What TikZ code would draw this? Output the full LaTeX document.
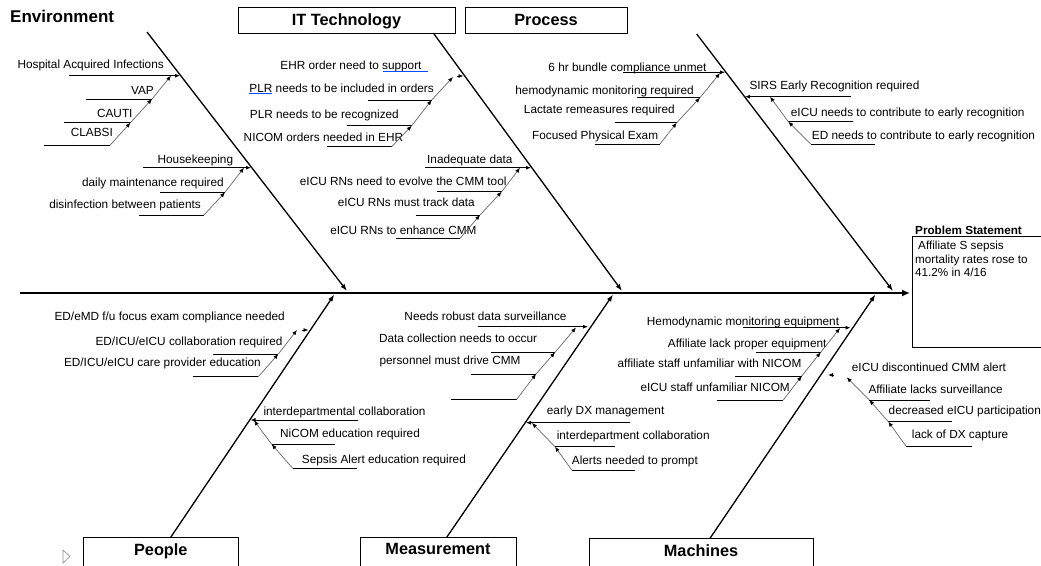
\documentclass[tikz,border=0pt]{standalone}
\usepackage{fontspec}
\setmainfont{Liberation Sans}
\usetikzlibrary{arrows.meta,calc}
\tikzset{
    cause/.style={
        font=\fontsize{11.8}{13}\selectfont,
        inner sep=0pt,
    },
    head/.style={
        font=\bfseries\fontsize{16.3}{18}\selectfont,
        inner sep=0pt,
    },
    catbox/.style={
        rectangle,
        draw=black,
        line width=0.9pt,
        inner sep=0pt,
    },
    spine/.style={
        draw,
        line width=2.6pt,
        -{Latex[length=8pt,width=7pt]},
    },
    bone/.style={
        draw,
        line width=1.3pt,
        -{Latex[length=7pt,width=5pt]},
    },
    causeline/.style={
        draw,
        line width=0.8pt,
    },
    causearrow/.style={
        causeline,
        -{Latex[length=5pt,width=4pt]},
    },
    feeder/.style={
        draw=black!60,
        line width=0.7pt,
        -{Latex[length=5pt,width=4pt,fill=black,color=black]},
    },
    spell/.style={
        draw=blue!70!cyan,
        line width=0.6pt,
    },
}

\begin{document}
\begin{tikzpicture}[x=1pt,y=-1pt]
\useasboundingbox[fill=white] (0,0) rectangle (1041,565);

\node[head, font=\bfseries\fontsize{17}{19}\selectfont, anchor=base west] (env) at (10,22) {Environment};
\node[catbox, minimum width=217pt, minimum height=26pt, anchor=north west] (itbox) at (238,7) {};
\node[head, anchor=base] (it) at (346.5,25) {IT Technology};
\node[catbox, minimum width=162pt, minimum height=26pt, anchor=north west] (prbox) at (465,7) {};
\node[head, anchor=base] (pr) at (546,25) {Process};
\node[catbox, minimum width=155pt, minimum height=40pt, anchor=north west] (peobox) at (83.3,537.3) {};
\node[head, anchor=base] (peo) at (160.8,555) {People};
\node[catbox, minimum width=156pt, minimum height=40pt, anchor=north west] (measbox) at (360,537.3) {};
\node[head, anchor=base] (meas) at (438,554.5) {Measurement};
\node[catbox, minimum width=223.4pt, minimum height=40pt, anchor=north west] (macbox) at (589.3,538.3) {};
\node[head, anchor=base] (mac) at (701,556) {Machines};
\draw[black!45, line width=0.6pt] (63,550) -- (63,563) -- (70,556.5) -- cycle;

\node[head, font=\bfseries\fontsize{11.7}{13}\selectfont, anchor=base west] (probt) at (915,234) {Problem Statement};
\node[catbox, minimum width=140pt, minimum height=111pt, anchor=north west] (probbox) at (912,235.7) {};
\node[cause, font=\fontsize{11.7}{13.5}\selectfont, align=left, anchor=north west] (prob) at (915,241.2)
    {\hspace*{3pt}Affiliate S sepsis\\mortality rates rose to\\41.2\% in 4/16};

\coordinate (spine-l) at (20,293);
\coordinate (spine-r) at (910,293);
\coordinate (env-a) at (147,32);
\coordinate (env-b) at (347,291);
\coordinate (it-a) at (433.3,33);
\coordinate (it-b) at (622,291);
\coordinate (pr-a) at (696.7,34);
\coordinate (pr-b) at (893,291);
\coordinate (peo-a) at (170.7,537.3);
\coordinate (peo-b) at (334.3,294.5);
\coordinate (meas-a) at (446.7,537.3);
\coordinate (meas-b) at (613,294.5);
\coordinate (mac-a) at (710,538.3);
\coordinate (mac-b) at (875.4,294.5);
\draw[spine] (spine-l) -- (spine-r);
\draw[bone] (env-a) -- (env-b);
\draw[bone] (it-a) -- (it-b);
\draw[bone] (pr-a) -- (pr-b);
\draw[bone] (peo-a) -- (peo-b);
\draw[bone] (meas-a) -- (meas-b);
\draw[bone] (mac-a) -- (mac-b);

% Environment
\node[cause, anchor=base east] (hai) at (164,68.3) {Hospital Acquired Infections};
\node[cause, anchor=base east] (vap) at (154,94) {VAP};
\node[cause, anchor=base east] (cauti) at (132.7,117) {CAUTI};
\node[cause, anchor=base east] (clabsi) at (113,136.7) {CLABSI};
\coordinate (hai-l) at (69,75.7); \coordinate (hai-r) at (180,75.7); \coordinate (hai-j) at (171,75.7);
\coordinate (vap-l) at (85.7,99); \coordinate (vap-r) at (152,99);
\coordinate (cauti-l) at (64.3,122.7); \coordinate (cauti-r) at (130.5,122.7);
\coordinate (clabsi-l) at (44.3,145.3); \coordinate (clabsi-r) at (110,145.3);
\draw[causearrow] (hai-l) -- (hai-r);
\draw[causeline] (vap-l) -- (vap-r);
\draw[causeline] (cauti-l) -- (cauti-r);
\draw[causeline] (clabsi-l) -- (clabsi-r);
\draw[feeder] (vap-r) -- (hai-j);
\draw[feeder] (cauti-r) -- (vap-r);
\draw[feeder] (clabsi-r) -- (cauti-r);

\node[cause, anchor=base east] (hk) at (233.3,163.3) {Housekeeping};
\node[cause, anchor=base east] (dmr) at (224,186.7) {daily maintenance required};
\node[cause, anchor=base east] (dbp) at (201,208.3) {disinfection between patients};
\coordinate (hk-l) at (142.7,167.7); \coordinate (hk-r) at (251,167.7); \coordinate (hk-j) at (244,167.7);
\coordinate (dmr-l) at (160,192.3); \coordinate (dmr-r) at (225,192.3);
\coordinate (dbp-l) at (139,215); \coordinate (dbp-r) at (204,215);
\draw[causearrow] (hk-l) -- (hk-r);
\draw[causeline] (dmr-l) -- (dmr-r);
\draw[causeline] (dbp-l) -- (dbp-r);
\draw[feeder] (dmr-r) -- (hk-j);
\draw[feeder] (dbp-r) -- (dmr-r);

% IT Technology
\node[cause, anchor=base east] (ehr) at (421.7,69.7) {EHR order need to support};
\node[cause, anchor=base east] (plr1) at (434,92.3) {PLR needs to be included in orders};
\node[cause, anchor=base east] (plr2) at (399,118.3) {PLR needs to be recognized};
\node[cause, anchor=base east] (nicom) at (403.3,141.7) {NICOM orders needed in EHR};
\coordinate (ehr-l) at (457,76); \coordinate (ehr-r) at (463.5,76); \coordinate (ehr-j) at (453,77);
\coordinate (plr1-l) at (368.3,100); \coordinate (plr1-r) at (431.7,100);
\coordinate (plr2-l) at (346.7,125.7); \coordinate (plr2-r) at (411.7,125.7);
\coordinate (nicom-l) at (326.7,146.7); \coordinate (nicom-r) at (391.7,146.7);
\draw[spell] ($(ehr.base east)+(-38.7,1.4)$) -- ($(ehr.base east)+(6.6,1.4)$);
\draw[spell] ($(plr1.base west)+(0,1.4)$) -- ($(plr1.base west)+(22.6,1.4)$);
\draw[causearrow] (ehr-l) -- (ehr-r);
\draw[causeline] (plr1-l) -- (plr1-r);
\draw[causeline] (plr2-l) -- (plr2-r);
\draw[causeline] (nicom-l) -- (nicom-r);
\draw[feeder] (plr1-r) -- (ehr-j);
\draw[feeder] (plr2-r) -- (plr1-r);
\draw[feeder] (nicom-r) -- (plr2-r);

\node[cause, anchor=base east] (inad) at (512.7,163.3) {Inadequate data};
\node[cause, anchor=base east] (evolve) at (506.7,185.7) {eICU RNs need to evolve the CMM tool};
\node[cause, anchor=base east] (track) at (475,206.3) {eICU RNs must track data};
\node[cause, anchor=base east] (enh) at (476.7,234) {eICU RNs to enhance CMM};
\coordinate (inad-l) at (425,167.7); \coordinate (inad-r) at (531,167.7); \coordinate (inad-j) at (520,167.7);
\coordinate (evolve-l) at (436.7,191.7); \coordinate (evolve-r) at (501.7,191.7);
\coordinate (track-l) at (415.7,215); \coordinate (track-r) at (480,215);
\coordinate (enh-l) at (395.7,238.3); \coordinate (enh-r) at (460,238.3);
\draw[causearrow] (inad-l) -- (inad-r);
\draw[causeline] (evolve-l) -- (evolve-r);
\draw[causeline] (track-l) -- (track-r);
\draw[causeline] (enh-l) -- (enh-r);
\draw[feeder] (evolve-r) -- (inad-j);
\draw[feeder] (track-r) -- (evolve-r);
\draw[feeder] (enh-r) -- (track-r);

% Process
\node[cause, anchor=base east] (six) at (706.7,71) {6 hr bundle compliance unmet};
\node[cause, anchor=base east] (hemo) at (694,94) {hemodynamic monitoring required};
\node[cause, anchor=base east] (lact) at (675,113) {Lactate remeasures required};
\node[cause, anchor=base east] (foc) at (658.3,139) {Focused Physical Exam};
\coordinate (six-l) at (623.3,72.3); \coordinate (six-r) at (725,72.3); \coordinate (six-j) at (720,73);
\coordinate (hemo-l) at (637.3,97.7); \coordinate (hemo-r) at (700,97.7);
\coordinate (lact-l) at (615,122.7); \coordinate (lact-r) at (676.7,122.7);
\coordinate (foc-l) at (595,144); \coordinate (foc-r) at (660,144);
\draw[causearrow] (six-l) -- (six-r);
\draw[causeline] (hemo-l) -- (hemo-r);
\draw[causeline] (lact-l) -- (lact-r);
\draw[causeline] (foc-l) -- (foc-r);
\draw[feeder] (hemo-r) -- (six-j);
\draw[feeder] (lact-r) -- (hemo-r);
\draw[feeder] (foc-r) -- (lact-r);

\node[cause, anchor=base west] (sirs) at (749.3,89.7) {SIRS Early Recognition required};
\node[cause, anchor=base west] (eicu) at (790.7,116.7) {eICU needs to contribute to early recognition};
\node[cause, anchor=base west] (ed) at (811.7,139) {ED needs to contribute to early recognition};
\coordinate (sirs-r) at (850.7,96.7); \coordinate (sirs-l) at (745,96.7); \coordinate (sirs-j) at (770,96.7);
\coordinate (eicu-l) at (788.3,121.7); \coordinate (eicu-r) at (853.3,121.7);
\coordinate (ed-l) at (810.7,144); \coordinate (ed-r) at (875,144);
\draw[causearrow] (sirs-r) -- (sirs-l);
\draw[causeline] (eicu-l) -- (eicu-r);
\draw[causeline] (ed-l) -- (ed-r);
\draw[feeder] (eicu-l) -- (sirs-j);
\draw[feeder] (ed-l) -- (eicu-l);

% People
\node[cause, anchor=base east] (edmd) at (285,320.7) {ED/eMD f/u focus exam compliance needed};
\node[cause, anchor=base east] (colab) at (282.7,345) {ED/ICU/eICU collaboration required};
\node[cause, anchor=base east] (prov) at (261,366.3) {ED/ICU/eICU care provider education};
\coordinate (edmd-l) at (302,330); \coordinate (edmd-r) at (308.5,330); \coordinate (edmd-j) at (297,330);
\coordinate (colab-l) at (213.3,354); \coordinate (colab-r) at (278.3,354);
\coordinate (prov-l) at (193.3,376.7); \coordinate (prov-r) at (258.3,376.7);
\draw[causearrow] (edmd-l) -- (edmd-r);
\draw[causeline] (colab-l) -- (colab-r);
\draw[causeline] (prov-l) -- (prov-r);
\draw[feeder] (colab-r) -- (edmd-j);
\draw[feeder] (prov-r) -- (colab-r);

\node[cause, anchor=base west] (inter) at (263.3,415) {interdepartmental collaboration};
\node[cause, anchor=base west] (nicomed) at (280,437.3) {NiCOM education required};
\node[cause, anchor=base west] (sepsis) at (301.7,463.3) {Sepsis Alert education required};
\coordinate (inter-r) at (358.3,420); \coordinate (inter-l) at (250.5,420); \coordinate (inter-j) at (254,420.5);
\coordinate (nicomed-l) at (271.7,444.3); \coordinate (nicomed-r) at (335,444.3);
\coordinate (sepsis-l) at (292.7,468.3); \coordinate (sepsis-r) at (356.7,468.3);
\draw[causearrow] (inter-r) -- (inter-l);
\draw[causeline] (nicomed-l) -- (nicomed-r);
\draw[causeline] (sepsis-l) -- (sepsis-r);
\draw[feeder] (nicomed-l) -- (inter-j);
\draw[feeder] (sepsis-l) -- (nicomed-l);

% Measurement
\node[cause, anchor=base east] (robust) at (566.7,320) {Needs robust data surveillance};
\node[cause, anchor=base east] (datac) at (537.3,342.3) {Data collection needs to occur};
\node[cause, anchor=base east] (pers) at (520.7,364.7) {personnel must drive CMM};
\coordinate (robust-l) at (478.3,326.7); \coordinate (robust-r) at (588,326.7); \coordinate (robust-j) at (576,327.5);
\coordinate (datac-l) at (490.7,352.3); \coordinate (datac-r) at (555,352.3);
\coordinate (pers-l) at (470.7,374); \coordinate (pers-r) at (536,374);
\coordinate (blank-l) at (450.7,399.3); \coordinate (blank-r) at (516.7,399.3);
\draw[causearrow] (robust-l) -- (robust-r);
\draw[causeline] (datac-l) -- (datac-r);
\draw[causeline] (pers-l) -- (pers-r);
\draw[causeline] (blank-l) -- (blank-r);
\draw[feeder] (datac-r) -- (robust-j);
\draw[feeder] (pers-r) -- (datac-r);
\draw[feeder] (blank-r) -- (pers-r);

\node[cause, anchor=base west] (edx) at (546.7,414) {early DX management};
\node[cause, anchor=base west] (interd) at (556.6,439.7) {interdepartment collaboration};
\node[cause, anchor=base west] (alerts) at (571.7,464) {Alerts needed to prompt};
\coordinate (edx-r) at (630,422.7); \coordinate (edx-l) at (526,422.7); \coordinate (edx-j) at (532,423);
\coordinate (interd-l) at (555,446.7); \coordinate (interd-r) at (615,446.7);
\coordinate (alerts-l) at (571.7,470); \coordinate (alerts-r) at (635,470);
\draw[causearrow] (edx-r) -- (edx-l);
\draw[causeline] (interd-l) -- (interd-r);
\draw[causeline] (alerts-l) -- (alerts-r);
\draw[feeder] (interd-l) -- (edx-j);
\draw[feeder] (alerts-l) -- (interd-l);

% Machines
\node[cause, anchor=base east] (hemeq) at (839.3,325.7) {Hemodynamic monitoring equipment};
\node[cause, anchor=base east] (afflack) at (826.7,347.3) {Affiliate lack proper equipment};
\node[cause, anchor=base east] (affstaff) at (801.7,367.3) {affiliate staff unfamiliar with NICOM};
\node[cause, anchor=base east] (eicustaff) at (790,391.3) {eICU staff unfamiliar NICOM};
\coordinate (hemeq-l) at (742.7,327.7); \coordinate (hemeq-r) at (850.5,327.7); \coordinate (hemeq-j) at (840,328);
\coordinate (afflack-l) at (756,352.3); \coordinate (afflack-r) at (820.7,352.3);
\coordinate (affstaff-l) at (735,376); \coordinate (affstaff-r) at (801.7,376);
\coordinate (eicustaff-l) at (716.7,400); \coordinate (eicustaff-r) at (783.3,400);
\draw[causearrow] (hemeq-l) -- (hemeq-r);
\draw[causeline] (afflack-l) -- (afflack-r);
\draw[causeline] (affstaff-l) -- (affstaff-r);
\draw[causeline] (eicustaff-l) -- (eicustaff-r);
\draw[feeder] (afflack-r) -- (hemeq-j);
\draw[feeder] (affstaff-r) -- (afflack-r);
\draw[feeder] (eicustaff-r) -- (affstaff-r);

\node[cause, anchor=base west] (disc) at (851.7,371.3) {eICU discontinued CMM alert};
\node[cause, anchor=base west] (lacks) at (868.3,393) {Affiliate lacks surveillance};
\node[cause, anchor=base west] (decr) at (888.5,414.7) {decreased eICU participation};
\node[cause, anchor=base west] (ldx) at (911.7,438) {lack of DX capture};
\coordinate (disc-r) at (834,375); \coordinate (disc-l) at (828,375); \coordinate (disc-j) at (846.7,377.3);
\coordinate (lacks-l) at (869.3,400); \coordinate (lacks-r) at (930,400);
\coordinate (decr-l) at (888.3,421.7); \coordinate (decr-r) at (951.7,421.7);
\coordinate (ldx-l) at (906,446); \coordinate (ldx-r) at (971.7,446);
\draw[causearrow] (disc-r) -- (disc-l);
\draw[causeline] (lacks-l) -- (lacks-r);
\draw[causeline] (decr-l) -- (decr-r);
\draw[causeline] (ldx-l) -- (ldx-r);
\draw[feeder] (lacks-l) -- (disc-j);
\draw[feeder] (decr-l) -- (lacks-l);
\draw[feeder] (ldx-l) -- (decr-l);
\end{tikzpicture}
\end{document}
